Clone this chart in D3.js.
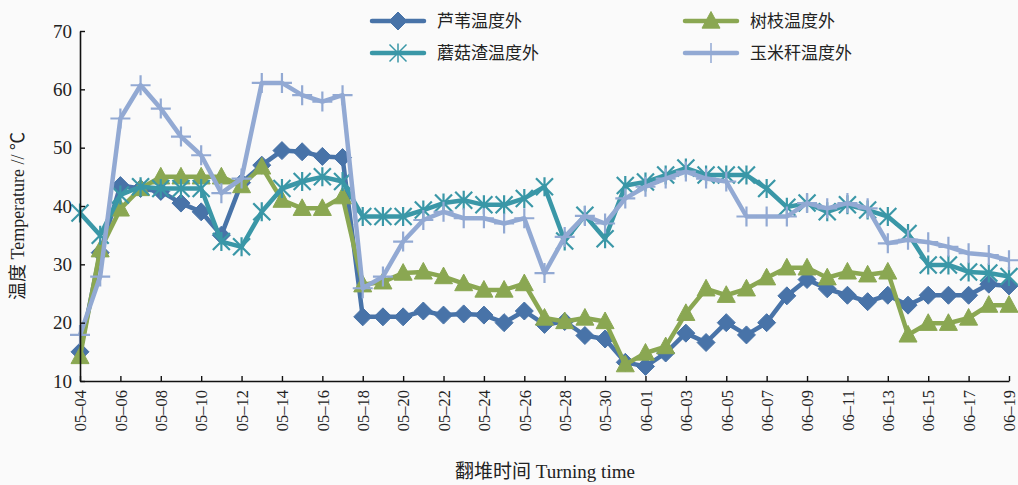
<!DOCTYPE html>
<html>
<head>
<meta charset="utf-8">
<script src="https://cdn.jsdelivr.net/npm/d3@7"></script>
<style>
  html, body { margin: 0; padding: 0; background: #fafafa; }
  svg { display: block; }
</style>
</head>
<body>
<svg id="chart" width="1018" height="485"></svg>
<script>
// Daily sampling dates, 05-04 .. 06-19
const dates = [
  "05-04","05-05","05-06","05-07","05-08","05-09","05-10","05-11","05-12","05-13",
  "05-14","05-15","05-16","05-17","05-18","05-19","05-20","05-21","05-22","05-23",
  "05-24","05-25","05-26","05-27","05-28","05-29","05-30","05-31","06-01","06-02",
  "06-03","06-04","06-05","06-06","06-07","06-08","06-09","06-10","06-11","06-12",
  "06-13","06-14","06-15","06-16","06-17","06-18","06-19"
];

// Outside-pile temperatures (°C) for each material
const reedTemp = [
  15, 32, 43.5, 43, 42.5, 40.5, 39, 35, 44, 47,
  49.5, 49.3, 48.5, 48.3, 21, 21, 21, 22, 21.3, 21.5,
  21.3, 20, 22, 19.7, 20.2, 17.8, 17.2, 13.2, 12.5, 14.8,
  18.2, 16.6, 20, 17.9, 20, 24.6, 27.4, 25.8, 24.7, 23.6,
  24.7, 23, 24.7, 24.7, 24.7, 26.6, 26.3
];
const branchTemp = [
  14.2, 32.5, 39.5, 43, 45, 45, 45, 45, 43.5, 46.7,
  41, 39.6, 39.6, 41.6, 26.5, 27, 28.5, 28.7, 27.9, 26.7,
  25.6, 25.6, 26.7, 20.8, 20.2, 20.8, 20.2, 12.8, 14.8, 15.9,
  21.6, 25.8, 24.7, 25.8, 27.7, 29.4, 29.4, 27.7, 28.7, 28.2,
  28.7, 17.9, 19.9, 19.9, 20.8, 23, 23
];
const mushroomTemp = [
  38.8, 35, 41.9, 43.3, 43, 43, 43, 33.9, 33, 39,
  43, 44.2, 45, 44.2, 38.2, 38.2, 38.2, 39.3, 40.5, 41,
  40.2, 40.2, 41.3, 43.3, 34, 38.4, 34.4, 43.5, 44.1, 45.3,
  46.5, 45.3, 45.3, 45.3, 43, 39.8, 40.5, 39, 40.2, 39.3,
  38.2, 35.3, 29.9, 29.9, 28.7, 28.5, 27.9
];
const cornTemp = [
  17.9, 27.9, 55, 60.7, 56.7, 51.9, 48.7, 42.2, 44.7, 61.1,
  61.1, 59, 57.9, 59, 25.9, 27.9, 33.9, 37.6, 39, 37.9,
  37.9, 37, 37.9, 28.5, 34.7, 38.3, 37, 41.3, 43.3, 44.7,
  45.9, 44.7, 44.2, 38.2, 38.2, 38.2, 40.5, 39.6, 40.5, 39.6,
  33.6, 34.2, 33.8, 33, 31.9, 31.6, 30.7
];

const seriesNames = ["芦苇温度外", "树枝温度外", "蘑菇渣温度外", "玉米秆温度外"];
const yTicks = [10, 20, 30, 40, 50, 60, 70];
const xTickLabels = dates.filter((d, i) => i % 2 === 0);

const series = [
  { name: seriesNames[0], values: reedTemp,     color: "#4873a8", marker: "diamond" },
  { name: seriesNames[1], values: branchTemp,   color: "#8aa752", marker: "triangle" },
  { name: seriesNames[2], values: mushroomTemp, color: "#3a97a7", marker: "asterisk" },
  { name: seriesNames[3], values: cornTemp,     color: "#92a9d3", marker: "plus" }
];

const svg = d3.select("#chart");
const plotLeft = 80, plotRight = 1009, plotTop = 31, plotBottom = 381;

const x = d3.scalePoint().domain(dates).range([plotLeft, plotRight]);
const y = d3.scaleLinear().domain([10, 70]).range([plotBottom, plotTop]);

const serif = "'Liberation Serif', 'DejaVu Serif', serif";
const cjk = "'Liberation Serif', 'Noto Sans CJK SC', serif";

// Marker path builders
function markerPath(type) {
  const p = d3.path();
  if (type === "diamond") {
    const r = 9;
    p.moveTo(0, -r); p.lineTo(r, 0); p.lineTo(0, r); p.lineTo(-r, 0); p.closePath();
  } else if (type === "triangle") {
    const w = 9, h = 9.5;
    p.moveTo(0, -h); p.lineTo(w, h * 0.75); p.lineTo(-w, h * 0.75); p.closePath();
  } else if (type === "asterisk") {
    const r = 9.5, d = 8.5;
    p.moveTo(0, -r); p.lineTo(0, r);
    p.moveTo(-d, -d); p.lineTo(d, d);
    p.moveTo(-d, d); p.lineTo(d, -d);
  } else {
    const r = 10;
    p.moveTo(0, -r); p.lineTo(0, r);
    p.moveTo(-r, 0); p.lineTo(r, 0);
  }
  return p.toString();
}
const filledMarker = t => t === "diamond" || t === "triangle";

// Series lines and markers
const line = d3.line().x((d, i) => x(dates[i])).y(d => y(d));
const plot = svg.append("g");
series.forEach(s => {
  const g = plot.append("g");
  g.append("path")
    .attr("d", line(s.values))
    .attr("fill", "none")
    .attr("stroke", s.color)
    .attr("stroke-width", 4.5)
    .attr("stroke-linejoin", "round");
  g.selectAll("path.m")
    .data(s.values)
    .join("path")
    .attr("class", "m")
    .attr("transform", (d, i) => `translate(${x(dates[i])},${y(d)})`)
    .attr("d", markerPath(s.marker))
    .attr("fill", filledMarker(s.marker) ? s.color : "none")
    .attr("stroke", s.color)
    .attr("stroke-width", filledMarker(s.marker) ? 1 : 2.2);
});

// Y axis with inward ticks
const yAxis = d3.axisLeft(y).tickValues(yTicks).tickSizeInner(-5).tickSizeOuter(0).tickPadding(8);
const yg = svg.append("g").attr("transform", `translate(${plotLeft},0)`).call(yAxis);
yg.select(".domain").attr("stroke", "#111").attr("stroke-width", 1.6);
yg.selectAll(".tick line").attr("stroke", "#111").attr("stroke-width", 1.4);
yg.selectAll(".tick text").attr("font-family", serif).attr("font-size", 19).attr("fill", "#222");

// X axis with inward ticks and vertical labels
const xAxis = d3.axisBottom(x).tickValues(xTickLabels).tickSizeInner(-5).tickSizeOuter(0).tickFormat(d => d.replace("-", "–"));
const xg = svg.append("g").attr("transform", `translate(0,${plotBottom})`).call(xAxis);
xg.select(".domain").attr("stroke", "#111").attr("stroke-width", 1.6);
xg.selectAll(".tick line").attr("stroke", "#111").attr("stroke-width", 1.4);
xg.selectAll(".tick text")
  .attr("font-family", serif).attr("font-size", 16.5).attr("fill", "#222")
  .attr("text-anchor", "end")
  .attr("transform", "rotate(-90)")
  .attr("x", -9).attr("y", 0).attr("dy", "0.35em");

// Axis titles
svg.append("text")
  .attr("transform", "translate(24,216) rotate(-90)")
  .attr("text-anchor", "middle")
  .attr("font-family", cjk).attr("font-size", 18).attr("fill", "#222")
  .text("温度 Temperature // ℃");
svg.append("text")
  .attr("x", 545).attr("y", 478)
  .attr("text-anchor", "middle")
  .attr("font-family", cjk).attr("font-size", 19).attr("fill", "#222")
  .text("翻堆时间 Turning time");

// Legend, two columns
const legendPos = [[372, 21], [685, 21], [372, 53], [685, 53]];
series.forEach((s, i) => {
  const [lx, ly] = legendPos[i];
  const g = svg.append("g").attr("transform", `translate(${lx},${ly})`);
  g.append("line").attr("x1", 0).attr("x2", 52).attr("y1", 0).attr("y2", 0)
    .attr("stroke", s.color).attr("stroke-width", 4.5).attr("stroke-linecap", "round");
  g.append("path")
    .attr("transform", "translate(26,0)")
    .attr("d", markerPath(s.marker))
    .attr("fill", filledMarker(s.marker) ? s.color : "none")
    .attr("stroke", s.color)
    .attr("stroke-width", filledMarker(s.marker) ? 1 : 1.5);
  g.append("text").attr("x", 65).attr("y", 0).attr("dy", "0.35em")
    .attr("font-family", cjk).attr("font-size", 17).attr("fill", "#222")
    .text(s.name);
});
</script>
</body>
</html>
